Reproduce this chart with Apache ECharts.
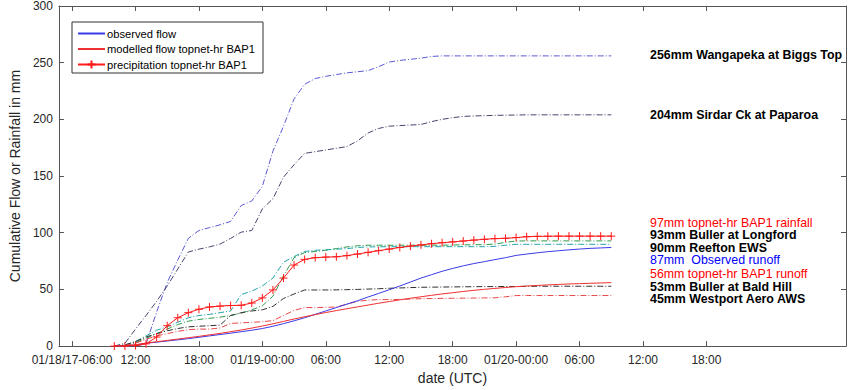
<!DOCTYPE html>
<html><head><meta charset="utf-8">
<script src="https://cdn.jsdelivr.net/npm/echarts@6/dist/echarts.min.js"></script>
<style>html,body{margin:0;padding:0;background:#fff}#c{width:850px;height:390px}</style>
</head><body><div id="c"></div>
<script>
// ---- data (hours since 01/18/17 00:00 UTC) ----
const hours = [10,11,12,13,14,15,16,17,18,19,20,21,22,23,24,25,26,27,28,29,30,31,32,33,34,35,36,37,38,39,40,41,42,43,44,45,46,47,48,49,50,51,52,53,54,55,56,57];
const observedFlow = [0,0.3,1,2.5,3.5,4.5,5.5,6.6,7.8,9,10.2,11.4,12.7,14,15.5,17.5,19.8,22.3,25,28,31,34,37,40,43.3,46.5,49.7,53,56.5,60,63,66,68.5,70.8,72.8,74.5,76.3,78,80,81.2,82.3,83.3,84.1,84.9,85.6,86.2,86.6,87];
const modelledFlow = [0,0.3,1.2,2.7,3.8,5,6.2,7.4,8.6,9.9,11.2,12.7,14.2,15.9,17.7,19.7,21.8,23.9,25.9,27.8,29.6,31.3,33,34.6,36.2,37.8,39.3,40.8,42.2,43.5,44.8,46,47.1,48.2,49.2,50.1,50.9,51.7,52.4,53,53.5,54,54.4,54.8,55.1,55.4,55.7,56];
const precipitation = [0,0,0.5,2,8,18,25,29.5,32.5,34.5,35.3,35.8,36,38,42.5,49.5,60,71.5,76.5,78,78.5,78.8,79.8,81.2,82.7,84.2,85.6,87,88.2,89.3,90.3,91.2,91.9,92.7,93.5,94.2,94.8,95.1,95.7,96.5,96.8,96.9,97,97,97,97,97,97];
const wangapeka = [0,0,0,2,30,56,76,95,102,104.5,107,110,124,128,141,172,194,218,231,236,238,239.5,241,242,243,246.5,250.5,252,253,254,255.5,256,256,256,256,256,256,256,256,256,256,256,256,256,256,256,256,256];
const sirdar = [0,2.5,15,27,39.5,53,68,83,85.5,87.5,90,95,100.5,102,121,130,149,160,170,171.5,173,174.5,176,181,188,192,194,194.5,195,195.5,198,200,201.5,202.6,203,203.3,203.5,203.7,203.8,204,204,204,204,204,204,204,204,204];
const bullerLongford = [0,0.5,3,7,11,15,19,22,23.5,24.5,25.5,27,29,32,35.5,44,62,78,82.5,83.5,84.5,86,87.5,88.5,89,89,89,89,89,89,89,89,89.2,89.3,89.4,89.5,90,91.5,92.7,92.8,92.8,92.8,92.8,92.8,92.8,92.8,92.8,92.8];
const reeftonEWS = [0,1,4,9,14,17,21,25,27,28,29.5,31,45.5,48.5,53,60,74,79,83.5,84.5,85,85.5,86,87,87.5,87.6,87.7,87.7,87.7,87.7,87.7,87.7,87.7,87.7,87.7,87.7,88,89,89.8,89.8,89.8,89.8,89.8,89.8,89.8,89.8,89.8,89.8];
const bullerBaldHill = [0,1,4,8,11,13.5,15.5,17,17.5,18,18.5,27,29.5,31,32,35,42,46,49.5,49.5,49.5,49.6,49.8,50,50.3,50.6,51,51.3,51.6,51.9,52,52.1,52.2,52.3,52.4,52.5,52.5,52.6,52.6,52.7,52.8,52.8,52.8,52.8,52.8,52.8,52.8,52.8];
const westportAero = [0,0.5,2.5,6,9,11,13,14.5,15,15,16,20,20.5,21,21.5,22.5,27,31.5,34,34,34.2,34.5,37,39.5,40.5,41,41,41.2,41.5,41.8,42,42.1,42.2,42.3,42.4,42.5,42.6,43.5,44.6,44.6,44.6,44.6,44.6,44.6,44.6,44.6,44.6,44.6];

const tickHours = [6,12,18,24,30,36,42,48,54,60,66];
const tickLabels = ['01/18/17-06:00','12:00','18:00','01/19-00:00','06:00','12:00','18:00','01/20-00:00','06:00','12:00','18:00'];
const legendNames = ['observed flow','modelled flow topnet-hr BAP1','precipitation topnet-hr BAP1'];
const noteTexts = ['256mm Wangapeka at Biggs Top','204mm Sirdar Ck at Paparoa','97mm topnet-hr BAP1 rainfall','93mm Buller at Longford','90mm Reefton EWS','87mm\u00a0 Observed runoff','56mm topnet-hr BAP1 runoff','53mm Buller at Bald Hill','45mm Westport Aero AWS'];

// ---- styling ----
const FONT = 'Arial, "Liberation Sans", Helvetica, sans-serif';
const axisColor = '#555555';
const textColor = '#262626';
const X_MIN = 4.76, X_MAX = 79.2;
const noteY = [55,115,223,235.4,247.8,260.2,274.5,287,299.5];
const noteColor = ['#000','#000','#ff0000','#000','#000','#0000ff','#ff0000','#000','#000'];
const noteBold = [true,true,false,true,true,false,false,true,true];
const NOTE_SIZE = 12.4;

function pairs(vals){ return hours.map((h,i)=>[h, vals[i]]); }
const dashDot = [6,2,1,2];

function lineSeries(name, vals, color, type){
  return {name, type:'line', data:pairs(vals), symbol:'none', showSymbol:false,
    lineStyle:{color, width:1, type}, itemStyle:{color}, z:2};
}

const chart = echarts.init(document.getElementById('c'), null, {renderer:'svg'});
const option = {
  animation:false,
  backgroundColor:'#fff',
  grid:{left:45, right:4, top:4, bottom:41},
  xAxis:[{
    type:'value', min:X_MIN, max:X_MAX, position:'bottom',
    axisLine:{show:true, onZero:false, lineStyle:{color:axisColor, width:1}},
    axisTick:{show:true, inside:true, length:5, customValues:tickHours, lineStyle:{color:axisColor}},
    axisLabel:{show:true, customValues:tickHours, margin:8, fontSize:12, color:textColor, fontFamily:FONT,
      formatter:(v)=>{const i=tickHours.indexOf(Math.round(v)); return i>=0?tickLabels[i]:'';}},
    splitLine:{show:false},
    name:'date (UTC)', nameLocation:'middle', nameGap:24,
    nameTextStyle:{fontSize:14, color:textColor, fontFamily:FONT}
  },{
    type:'value', min:X_MIN, max:X_MAX, position:'top',
    axisLine:{show:true, onZero:false, lineStyle:{color:axisColor, width:1}},
    axisTick:{show:true, inside:true, length:5, customValues:tickHours, lineStyle:{color:axisColor}},
    axisLabel:{show:false}, splitLine:{show:false}
  }],
  yAxis:[{
    type:'value', min:0, max:300, interval:50, position:'left',
    axisLine:{show:true, onZero:false, lineStyle:{color:axisColor, width:1}},
    axisTick:{show:true, inside:true, length:5, lineStyle:{color:axisColor}},
    axisLabel:{margin:6, fontSize:12, color:textColor, fontFamily:FONT},
    splitLine:{show:false},
    name:'Cumulative Flow or Rainfall in mm', nameLocation:'middle', nameGap:32, nameRotate:90,
    nameTextStyle:{fontSize:14, color:textColor, fontFamily:FONT}
  },{
    type:'value', min:0, max:300, interval:50, position:'right',
    axisLine:{show:true, onZero:false, lineStyle:{color:axisColor, width:1}},
    axisTick:{show:true, inside:true, length:5, lineStyle:{color:axisColor}},
    axisLabel:{show:false}, splitLine:{show:false}
  }],
  legend:{
    data:[
      {name:legendNames[0], itemStyle:{opacity:0}},
      {name:legendNames[1], itemStyle:{opacity:0}},
      {name:legendNames[2]}
    ],
    orient:'vertical', left:72, top:22,
    backgroundColor:'#fff', borderColor:'#333', borderWidth:1,
    padding:[6,8,3,5], itemWidth:27, itemHeight:10, itemGap:4.5,
    textStyle:{fontSize:11.2, color:'#000', fontFamily:FONT, padding:[0,0,0,-3]},
    selectedMode:false
  },
  series:[
    lineSeries('Wangapeka at Biggs Top', wangapeka, '#5a5ad2', dashDot),
    lineSeries('Sirdar Ck at Paparoa', sirdar, '#46466e', dashDot),
    lineSeries('Buller at Longford', bullerLongford, '#2f9a4c', dashDot),
    lineSeries('Reefton EWS', reeftonEWS, '#22a3a8', dashDot),
    lineSeries('Buller at Bald Hill', bullerBaldHill, '#303030', dashDot),
    lineSeries('Westport Aero AWS', westportAero, '#e8474a', dashDot),
    lineSeries(legendNames[0], observedFlow, '#3a3ae6', 'solid'),
    lineSeries(legendNames[1], modelledFlow, '#ee3030', 'solid'),
    {name:legendNames[2], type:'line', data:pairs(precipitation),
      symbol:'path://M5,0L5,10M0,5L10,5', symbolSize:8, showSymbol:true,
      lineStyle:{color:'#ff1a1a', width:1}, itemStyle:{color:'#ff1a1a', borderColor:'#ff1a1a', borderWidth:1}, z:3}
  ],
  graphic: noteTexts.map((t,i)=>({
    type:'text', left:650, top:noteY[i]-NOTE_SIZE/2,
    style:{text:t, fill:noteColor[i], font:(noteBold[i]?'bold ':'')+NOTE_SIZE+'px '+FONT}
  }))
};
chart.setOption(option);
</script>
</body></html>
